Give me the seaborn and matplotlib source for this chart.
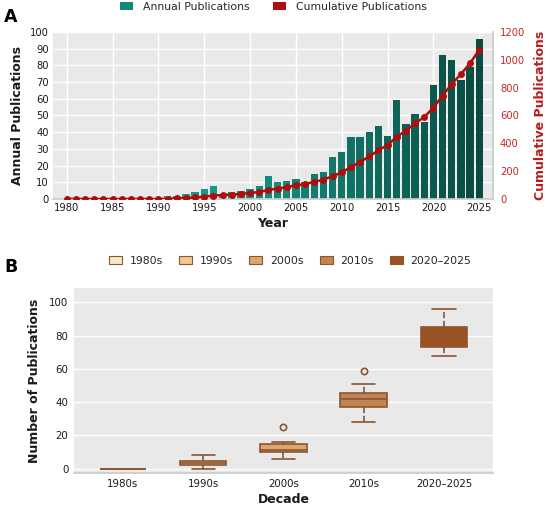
import numpy as np
import pandas as pd
import matplotlib
matplotlib.use("Agg")
import matplotlib.pyplot as plt
from matplotlib.patches import Patch
from matplotlib.colors import LinearSegmentedColormap, to_hex
import seaborn as sns

# ---------------- data ----------------
years = list(range(1980, 2026))
annual = [0, 0, 0, 0, 0, 0, 0, 0, 0, 0,          # 1980s
          0, 2, 2, 3, 4, 6, 8, 3, 4, 5,          # 1990s
          6, 8, 14, 10, 11, 12, 10, 15, 16, 25,  # 2000s
          28, 37, 37, 40, 44, 38, 59, 45, 51, 46,  # 2010s
          68, 86, 83, 71, 79, 96]                # 2020-2025
decade_labels = ["1980s", "1990s", "2000s", "2010s", "2020\u20132025"]
decade_colors = ["#fbe6c4", "#f2c894", "#dca66c", "#c08552", "#9a5222"]

y_ticks_a = list(range(0, 101, 10))
y_ticks_cum = list(range(0, 1201, 200))
x_ticks_a = list(range(1980, 2026, 5))
y_ticks_b = list(range(0, 101, 20))

# ---------------- style ----------------
sns.set_theme(style="darkgrid")
plt.rcParams["font.family"] = ["DejaVu Sans"]
plt.rcParams["axes.facecolor"] = "#e9e9e9"
plt.rcParams["grid.color"] = "white"
plt.rcParams["grid.linewidth"] = 1.0

teal_light = "#1fb3a2"
teal_dark = "#0a4a41"
red = "#b00c0c"
edge = "#8a5530"
txt = "#1a1a1a"

df = pd.DataFrame({"Year": years, "Annual": annual})
df["Cumulative"] = np.cumsum(df["Annual"])


def decade_of(y):
    if y >= 2020:
        return decade_labels[4]
    return decade_labels[(y - 1980) // 10]


df["Decade"] = df["Year"].apply(decade_of)

cmap = LinearSegmentedColormap.from_list("tl", [teal_light, "#148a7b", teal_dark])
bar_colors = [to_hex(cmap(i / (len(years) - 1))) for i in range(len(years))]

fig = plt.figure(figsize=(5.5, 5.07), dpi=100)

# ---------------- panel A ----------------
axA = fig.add_axes([0.0964, 0.6075, 0.80, 0.3294])
sns.barplot(data=df, x="Year", y="Annual", hue="Year", palette=bar_colors,
            native_scale=True, dodge=False, width=0.8, legend=False,
            saturation=1, linewidth=0, ax=axA)
axA.set_xlim(1978.5, 2026.5)
axA.set_ylim(0, 100)
axA.set_xticks(x_ticks_a)
axA.set_yticks(y_ticks_a)
axA.tick_params(axis="both", labelsize=7.2, length=0, pad=3, labelcolor=txt)
axA.set_xlabel("Year", fontsize=9, fontweight="bold", color=txt, labelpad=3)
axA.set_ylabel("Annual Publications", fontsize=9, fontweight="bold", color=txt, labelpad=4)
for s in ["top", "left"]:
    axA.spines[s].set_visible(False)
axA.spines["bottom"].set_color("#cccccc")
axA.spines["right"].set_visible(False)

ax2 = axA.twinx()
sns.lineplot(data=df, x="Year", y="Cumulative", color=red, marker="o",
             markersize=5, markeredgewidth=0, linewidth=1.8, ax=ax2)
ax2.set_ylim(0, 1200)
ax2.set_yticks(y_ticks_cum)
ax2.grid(False)
ax2.tick_params(axis="y", labelsize=7.2, length=0, pad=5, labelcolor="#c62828")
ax2.set_ylabel("Cumulative Publications", fontsize=9, fontweight="bold",
               color="#b71c1c", labelpad=6)
for s in ["top", "left", "bottom"]:
    ax2.spines[s].set_visible(False)
ax2.spines["right"].set_color("#cccccc")

handlesA = [Patch(facecolor="#15887a", edgecolor="none", label="Annual Publications"),
            Patch(facecolor=red, edgecolor="none", label="Cumulative Publications")]
fig.legend(handles=handlesA, loc="center", bbox_to_anchor=(0.497, 0.986), ncol=2,
           frameon=False, fontsize=7.8, handlelength=1.2, handleheight=0.75,
           handletextpad=0.9, columnspacing=2.2)
fig.text(0.008, 0.9836, "A", fontsize=12.5, fontweight="bold", va="top", ha="left", color="black")

# ---------------- panel B ----------------
axB = fig.add_axes([0.1345, 0.0665, 0.7618, 0.3649])
sns.boxplot(data=df, x="Decade", y="Annual", hue="Decade", order=decade_labels,
            hue_order=decade_labels, palette=decade_colors, saturation=1,
            width=0.58, linewidth=1.2, linecolor=edge, legend=False, dodge=False,
            whiskerprops={"linestyle": "--"},
            flierprops={"marker": "o", "markerfacecolor": "none",
                        "markeredgecolor": edge, "markersize": 4.5,
                        "markeredgewidth": 1.2},
            ax=axB)
axB.set_xlim(-0.61, 4.61)
axB.set_ylim(-2.8, 108.5)
axB.set_yticks(y_ticks_b)
axB.tick_params(axis="both", labelsize=7.4, length=0, pad=4, labelcolor=txt)
axB.set_xlabel("Decade", fontsize=9, fontweight="bold", color=txt, labelpad=3)
axB.set_ylabel("Number of Publications", fontsize=9, fontweight="bold", color=txt, labelpad=6)
for s in ["top", "left", "right"]:
    axB.spines[s].set_visible(False)
axB.spines["bottom"].set_color("#cccccc")

handlesB = [Patch(facecolor=c, edgecolor=edge, linewidth=0.8, label=l)
            for c, l in zip(decade_colors, decade_labels)]
fig.legend(handles=handlesB, loc="center", bbox_to_anchor=(0.528, 0.486), ncol=5,
           frameon=False, fontsize=7.8, handlelength=1.2, handleheight=0.75,
           handletextpad=0.7, columnspacing=1.5)
fig.text(0.008, 0.491, "B", fontsize=12.5, fontweight="bold", va="top", ha="left", color="black")

fig.savefig("out.png", dpi=100)
